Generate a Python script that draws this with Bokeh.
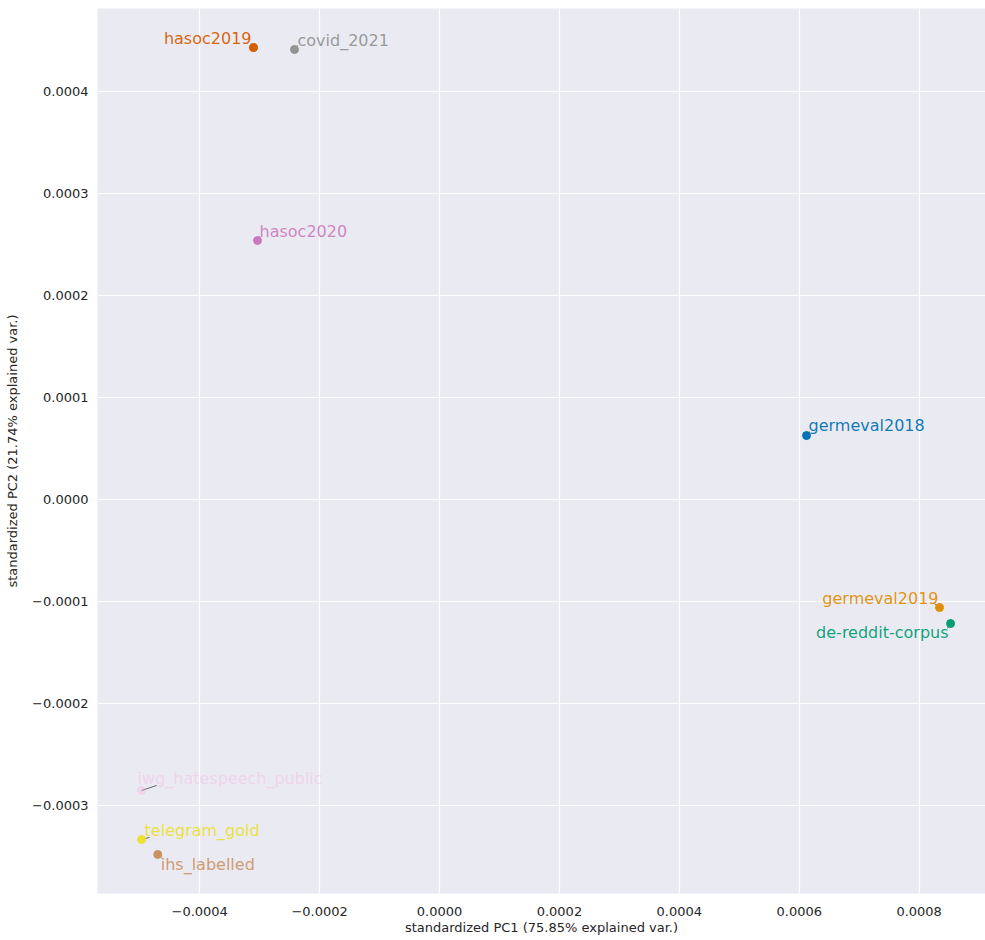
from bokeh.plotting import figure
from bokeh.models import ColumnDataSource, Range1d, FixedTicker, CustomJSTickFormatter
from bokeh.core.properties import value
from bokeh.embed import file_html
from bokeh.resources import INLINE

# ---- data ----
names = ["hasoc2019", "covid_2021", "hasoc2020", "germeval2018", "germeval2019",
         "de-reddit-corpus", "iwg_hatespeech_public", "telegram_gold", "ihs_labelled"]
pc1 = [-0.0003103, -0.0002419, -0.0003036, 0.0006122, 0.0008340,
       0.0008524, -0.0004970, -0.0004970, -0.0004700]
pc2 = [0.0004431, 0.0004412, 0.0002539, 0.0000627, -0.0001059,
       -0.0001216, -0.0002853, -0.0003333, -0.0003480]
colors = ["#d55e00", "#949494", "#cc78bc", "#0173b2", "#de8f05",
          "#029e73", "#fbafe4", "#ece133", "#ca9161"]
x_ticks = [-0.0004, -0.0002, 0.0, 0.0002, 0.0004, 0.0006, 0.0008]
y_ticks = [-0.0003, -0.0002, -0.0001, 0.0, 0.0001, 0.0002, 0.0003, 0.0004]

# ---- label placement (screen pixels) ----
label_dx = [-2, 3, 2, 2, -1, -2, -4, 3, 3]
label_dy = [-9, -9, -9, -10, -9, 9, -12, -9, 10]
label_align = ["right", "left", "left", "left", "right", "right", "left", "left", "left"]
conn_dx = [-2, 3, 2, 3, -5, -3, 15, 8, 4]
conn_dy = [-4, -4, -4, -4, -4, 5, -5, -2, 4]
label_alpha = [0.95, 0.95, 0.9, 0.95, 0.95, 0.95, 0.4, 0.95, 0.9]
point_alpha = [1, 1, 1, 1, 1, 1, 0.3, 1, 1]

FW, FH = 888, 885
x0, x1 = -0.0005705, 0.0009107
y0, y1 = -0.0003863, 0.0004814
sx = FW / (x1 - x0)
sy = FH / (y1 - y0)

p = figure(frame_width=FW, frame_height=FH, output_backend="svg", toolbar_location=None,
           x_range=Range1d(x0, x1), y_range=Range1d(y0, y1),
           min_border_left=97, min_border_right=0, min_border_top=8, min_border_bottom=10)
p.background_fill_color = "#eaeaf2"
p.border_fill_color = "white"
p.outline_line_color = None
p.grid.grid_line_color = "white"
p.grid.grid_line_width = 1.2
p.xgrid.ticker = FixedTicker(ticks=x_ticks)
p.ygrid.ticker = FixedTicker(ticks=y_ticks)

fmt = CustomJSTickFormatter(code="""
    var s = Math.abs(tick).toFixed(4);
    return (tick < -1e-12 ? '\u2212' : '') + s;
""")
for ax, ticks in ((p.xaxis, x_ticks), (p.yaxis, y_ticks)):
    ax.ticker = FixedTicker(ticks=ticks)
    ax.formatter = fmt
    ax.axis_line_color = None
    ax.major_tick_line_color = None
    ax.minor_tick_line_color = None
    ax.major_tick_out = 0
    ax.major_tick_in = 0
    ax.major_label_text_font = "DejaVu Sans"
    ax.major_label_text_font_size = "13px"
    ax.major_label_text_color = "#262626"
    ax.axis_label_text_font = "DejaVu Sans"
    ax.axis_label_text_font_size = "13px"
    ax.axis_label_text_font_style = "normal"
    ax.axis_label_text_color = "#262626"
p.xaxis.axis_label = "standardized PC1 (75.85% explained var.)"
p.yaxis.axis_label = "standardized PC2 (21.74% explained var.)"
p.xaxis.major_label_standoff = 13
p.xaxis.axis_label_standoff = 1
p.yaxis.major_label_standoff = 9
p.yaxis.axis_label_standoff = 9

# connectors
cx = [x + dx / sx for x, dx in zip(pc1, conn_dx)]
cy = [y - dy / sy for y, dy in zip(pc2, conn_dy)]
p.segment(x0=pc1, y0=pc2, x1=cx, y1=cy, line_color="#444444", line_width=1, line_alpha=0.8)

src = ColumnDataSource(dict(x=pc1, y=pc2, c=colors, name=names, dx=label_dx, dy=label_dy,
                            al=label_align, ta=label_alpha, pa=point_alpha))
p.scatter("x", "y", source=src, size=8, fill_color="c", line_color="c",
          fill_alpha="pa", line_alpha="pa")
p.text("x", "y", text="name", source=src, text_color="c", text_alpha="ta",
       x_offset="dx", y_offset="dy", text_align="al", text_baseline="middle",
       text_font=value("DejaVu Sans"), text_font_size="16px")

open("out.html", "w").write(file_html(p, INLINE))
